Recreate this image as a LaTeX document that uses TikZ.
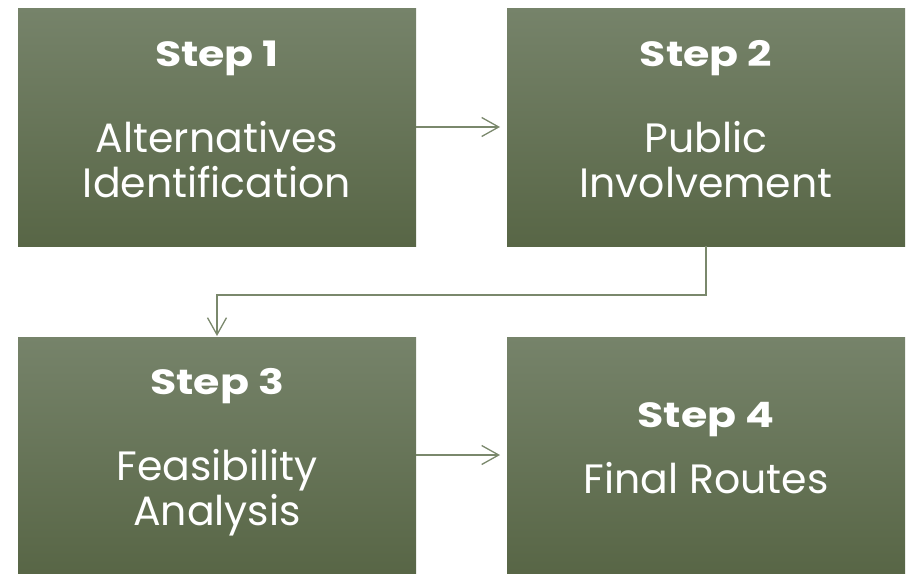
\documentclass[tikz,border=0pt]{standalone}
\usepackage{fontspec}
\setmainfont{Poppins}
\usetikzlibrary{arrows.meta,calc}
\definecolor{boxtop}{RGB}{118,131,106}
\definecolor{boxbot}{RGB}{88,102,70}
\definecolor{connc}{RGB}{122,136,108}
\newcommand{\widetitle}[1]{\scalebox{1.22}[1]{#1}}
\tikzset{
  stepbox/.style={draw=none, top color=boxtop, bottom color=boxbot, minimum width=398pt, inner sep=0pt, outer sep=0pt},
  steptitle/.style={anchor=base, text=white, inner sep=0pt, font=\bfseries\fontsize{35}{35}\selectfont},
  steptext/.style={anchor=base, text=white, inner sep=0pt, font=\fontsize{41}{41}\selectfont},
  conn/.style={draw=connc, line width=1.3pt, -{Straight Barb[length=17pt,width=19pt]}}
}
\begin{document}
\begin{tikzpicture}[x=1pt,y=-1pt]
\useasboundingbox (0,0) rectangle (907,573);
\node[stepbox, minimum height=238pt] (b1) at (217,127) {};
\node[stepbox, minimum height=238pt] (b2) at (706,127) {};
\node[stepbox, minimum height=236pt] (b3) at (217,455) {};
\node[stepbox, minimum height=236pt] (b4) at (706,455) {};
% box 1
\node[steptitle] (t1) at ($(b1.center)+(0,-61)$) {\widetitle{Step 1}};
\node[steptext] (t1a) at ($(b1.center)+(0,25)$) {Alternatives};
\node[steptext] (t1b) at ($(b1.center)+(0,70)$) {Identification};
% box 2
\node[steptitle] (t2) at ($(b2.center)+(0,-61)$) {\widetitle{Step 2}};
\node[steptext] (t2a) at ($(b2.center)+(0,25)$) {Public};
\node[steptext] (t2b) at ($(b2.center)+(0,70)$) {Involvement};
% box 3
\node[steptitle] (t3) at ($(b3.center)+(0,-61)$) {\widetitle{Step 3}};
\node[steptext] (t3a) at ($(b3.center)+(0,25)$) {Feasibility};
\node[steptext] (t3b) at ($(b3.center)+(0,70)$) {Analysis};
% box 4
\node[steptitle] (t4) at ($(b4.center)+(0,-28)$) {\widetitle{Step 4}};
\node[steptext] (t4a) at ($(b4.center)+(0,38)$) {Final Routes};
% connectors
\draw[conn, shorten >=7pt] (b1.east) -- (b2.west);
\coordinate (m) at (706,295);
\draw[conn, shorten >=1pt] (b2.south) -- (m) -| (b3.north);
\draw[conn, shorten >=7pt] (b3.east) -- (b4.west);
\end{tikzpicture}
\end{document}
